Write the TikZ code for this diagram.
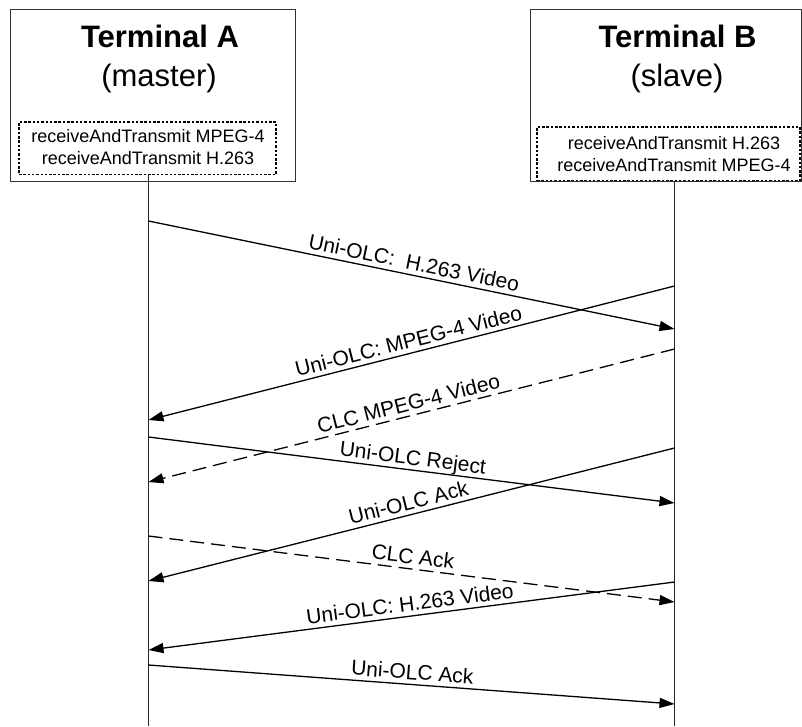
\documentclass[tikz,border=0pt]{standalone}
\usepackage{fontspec}
\setmainfont{Liberation Sans}
\usetikzlibrary{arrows.meta}
\begin{document}
\begin{tikzpicture}[x=1pt,y=-1pt,
  frame/.style={draw=black!80, line width=0.9pt, inner sep=0pt, outer sep=0pt},
  capbox/.style={draw=black, line width=1.1pt, dash pattern=on 2.5pt off 1.8pt, inner sep=0pt, outer sep=0pt},
  title/.style={font=\fontsize{31}{36}\selectfont\bfseries, anchor=base, inner sep=0pt},
  role/.style={font=\fontsize{31}{36}\selectfont, anchor=base, inner sep=0pt},
  captext/.style={font=\fontsize{18}{22}\selectfont, anchor=base, inner sep=0pt},
  life/.style={draw=black!85, line width=0.9pt},
  msg/.style={line width=1.3pt, -{Triangle[length=15pt,width=10pt]}},
  ctl/.style={msg, dash pattern=on 14pt off 7pt},
  lbl/.style={font=\fontsize{21}{25}\selectfont, sloped, above, midway, inner sep=5pt, text depth=0pt, outer sep=0pt},
]
\useasboundingbox (0,0) rectangle (802,726);

% terminal boxes
\node[frame, minimum width=285pt, minimum height=172pt] (boxA) at (152.5,95) {};
\node[frame, minimum width=271pt, minimum height=172pt] (boxB) at (665.5,95) {};
\node[capbox, minimum width=257pt, minimum height=52.5pt] (capA) at (147.5,148.25) {};
\node[capbox, minimum width=263pt, minimum height=53.5pt] (capB) at (668.5,153.75) {};

\node[title] (tA) at (160,47) {Terminal A};
\node[role] (rA) at (159,86) {(master)};
\node[captext] (cA1) at (148,142) {receiveAndTransmit MPEG-4};
\node[captext] (cA2) at (148,164) {receiveAndTransmit H.263};

\node[title] (tB) at (677.5,47) {Terminal B};
\node[role] (rB) at (677,86) {(slave)};
\node[captext] (cB1) at (674,149) {receiveAndTransmit H.263};
\node[captext] (cB2) at (674,171) {receiveAndTransmit MPEG-4};

% lifelines
\coordinate (Atop) at (148.5,174.5);
\coordinate (Abot) at (148.5,726);
\coordinate (Btop) at (674.5,180.5);
\coordinate (Bbot) at (674.5,726);
\draw[life] (Atop) -- (Abot);
\draw[life] (Btop) -- (Bbot);

% message end points
\coordinate (a1) at (148.5,221);
\coordinate (b1) at (674.5,329);
\coordinate (b2) at (674.5,286);
\coordinate (a2) at (148.5,420);
\coordinate (b3) at (674.5,349);
\coordinate (a3) at (148.5,482);
\coordinate (a4) at (148.5,437);
\coordinate (b4) at (674.5,503);
\coordinate (b5) at (674.5,448);
\coordinate (a5) at (148.5,581);
\coordinate (a6) at (148.5,536);
\coordinate (b6) at (674.5,602);
\coordinate (b7) at (674.5,582);
\coordinate (a7) at (148.5,650);
\coordinate (a8) at (148.5,665);
\coordinate (b8) at (674.5,704);

\draw[msg] (a1) -- (b1) node[lbl] {Uni-OLC:\ \ H.263 Video};
\draw[msg] (b2) -- (a2) node[lbl] {Uni-OLC: MPEG-4 Video};
\draw[ctl] (b3) -- (a3) node[lbl] {CLC MPEG-4 Video};
\draw[msg] (a4) -- (b4) node[lbl] {Uni-OLC Reject};
\draw[msg] (b5) -- (a5) node[lbl] {Uni-OLC Ack};
\draw[ctl] (a6) -- (b6) node[lbl] {CLC Ack};
\draw[msg] (b7) -- (a7) node[lbl] {Uni-OLC: H.263 Video};
\draw[msg] (a8) -- (b8) node[lbl] {Uni-OLC Ack};
\end{tikzpicture}
\end{document}
